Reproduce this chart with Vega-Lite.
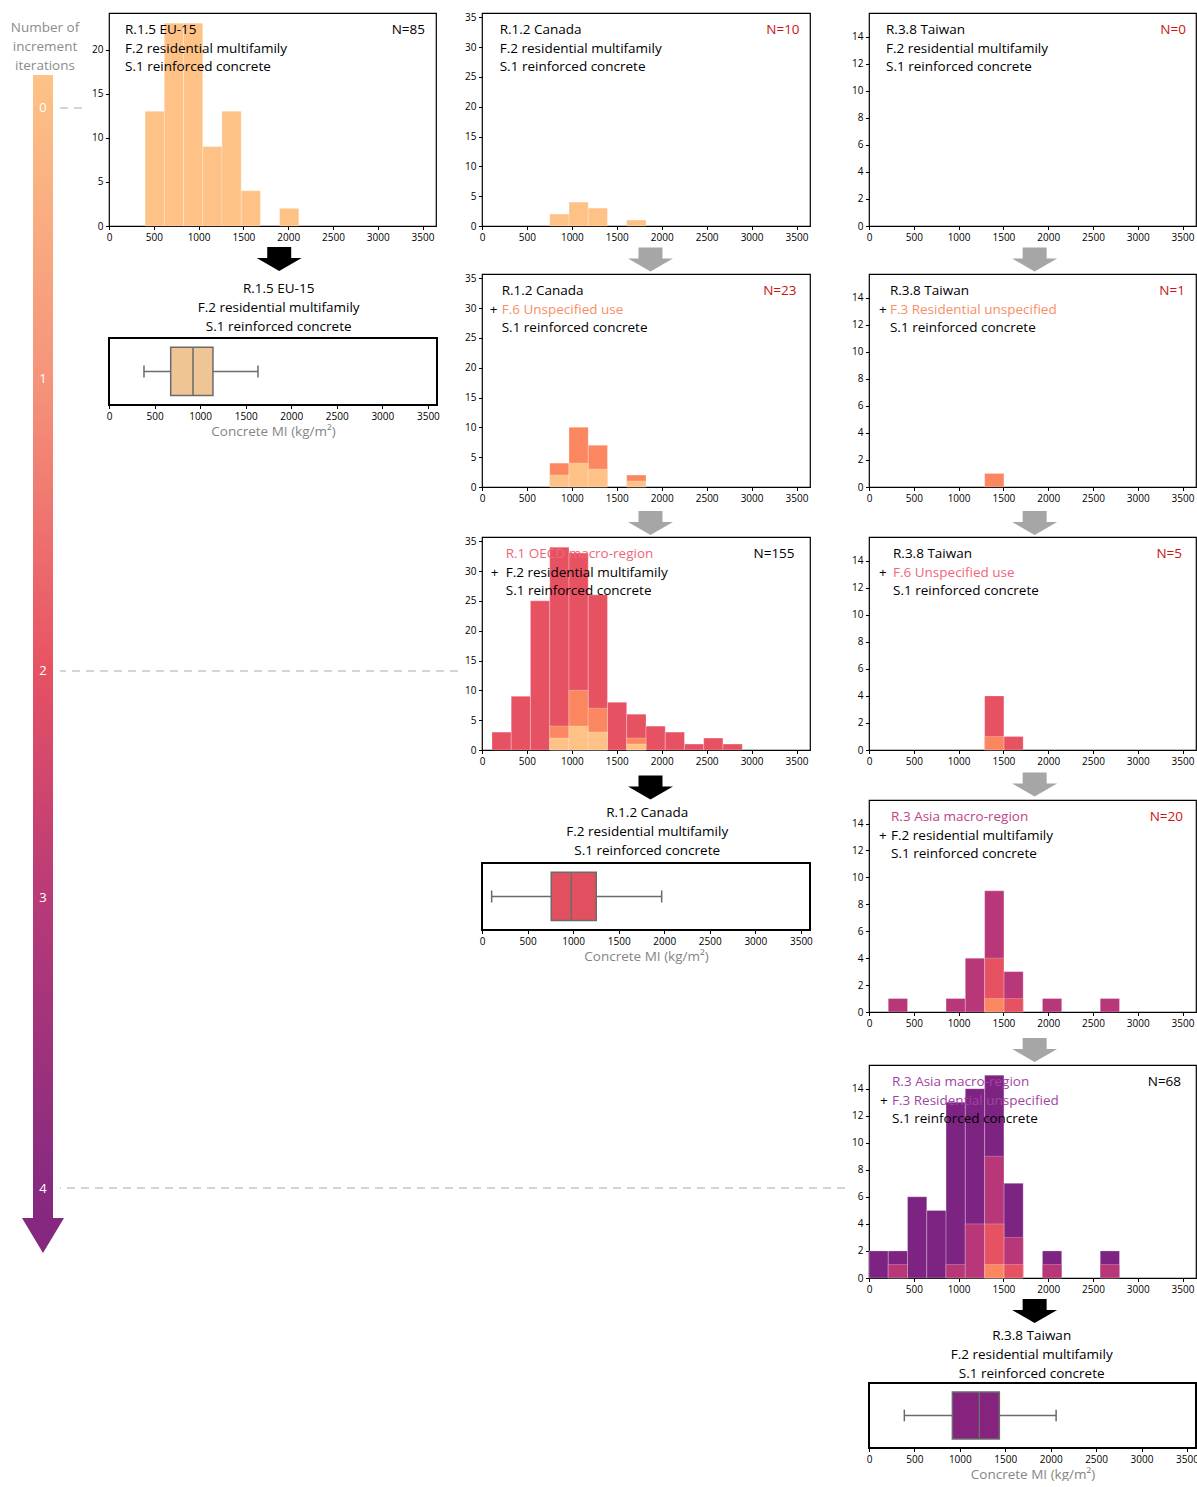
{
"$schema": "https://vega.github.io/schema/vega-lite/v6.json",
"padding": {"left": 0, "top": 11, "right": 0, "bottom": 0},
"background": "white",
"config": {
  "font": "Open Sans",
  "view": {"stroke": "#000000", "strokeWidth": 1.2},
  "axis": {"labelFont": "Open Sans", "labelFontSize": 10, "labelColor": "#000000", "tickColor": "#000000", "tickSize": 3.5, "tickWidth": 1, "domain": false, "grid": false, "labelPadding": 2.5, "labelFlush": false, "labelOverlap": false, "titleFont": "Open Sans", "format": "d"}
},
"datasets": {
  "b_c1": [
    {"lvl":0,"start":403,"end":617.5,"count":13},{"lvl":0,"start":617.5,"end":832,"count":23},{"lvl":0,"start":832,"end":1046.5,"count":23},{"lvl":0,"start":1046.5,"end":1261,"count":9},{"lvl":0,"start":1261,"end":1475.5,"count":13},{"lvl":0,"start":1475.5,"end":1690,"count":4},{"lvl":0,"start":1904.5,"end":2119,"count":2}],
  "b_c2p1": [
    {"lvl":0,"start":754,"end":968,"count":2},{"lvl":0,"start":968,"end":1182,"count":4},{"lvl":0,"start":1182,"end":1396,"count":3},{"lvl":0,"start":1610,"end":1825,"count":1}],
  "b_c2p2": [
    {"lvl":1,"start":754,"end":968,"count":4},{"lvl":1,"start":968,"end":1182,"count":10},{"lvl":1,"start":1182,"end":1396,"count":7},{"lvl":1,"start":1610,"end":1825,"count":2},
    {"lvl":0,"start":754,"end":968,"count":2},{"lvl":0,"start":968,"end":1182,"count":4},{"lvl":0,"start":1182,"end":1396,"count":3},{"lvl":0,"start":1610,"end":1825,"count":1}],
  "b_c2p3": [
    {"lvl":2,"start":111,"end":325,"count":3},{"lvl":2,"start":325,"end":539,"count":9},{"lvl":2,"start":539,"end":754,"count":25},{"lvl":2,"start":754,"end":968,"count":34},{"lvl":2,"start":968,"end":1182,"count":33},{"lvl":2,"start":1182,"end":1396,"count":26},{"lvl":2,"start":1396,"end":1610,"count":8},{"lvl":2,"start":1610,"end":1825,"count":6},{"lvl":2,"start":1825,"end":2039,"count":4},{"lvl":2,"start":2039,"end":2253,"count":3},{"lvl":2,"start":2253,"end":2467,"count":1},{"lvl":2,"start":2467,"end":2681,"count":2},{"lvl":2,"start":2681,"end":2896,"count":1},
    {"lvl":1,"start":754,"end":968,"count":4},{"lvl":1,"start":968,"end":1182,"count":10},{"lvl":1,"start":1182,"end":1396,"count":7},{"lvl":1,"start":1610,"end":1825,"count":2},
    {"lvl":0,"start":754,"end":968,"count":2},{"lvl":0,"start":968,"end":1182,"count":4},{"lvl":0,"start":1182,"end":1396,"count":3},{"lvl":0,"start":1610,"end":1825,"count":1}],
  "b_c3p1": [],
  "b_c3p2": [
    {"lvl":1,"start":1291,"end":1506,"count":1}],
  "b_c3p3": [
    {"lvl":2,"start":1291,"end":1506,"count":4},{"lvl":2,"start":1506,"end":1721,"count":1},
    {"lvl":1,"start":1291,"end":1506,"count":1}],
  "b_c3p4": [
    {"lvl":3,"start":215,"end":430,"count":1},{"lvl":3,"start":860,"end":1075,"count":1},{"lvl":3,"start":1075,"end":1291,"count":4},{"lvl":3,"start":1291,"end":1506,"count":9},{"lvl":3,"start":1506,"end":1721,"count":3},{"lvl":3,"start":1936,"end":2151,"count":1},{"lvl":3,"start":2581,"end":2796,"count":1},
    {"lvl":2,"start":1291,"end":1506,"count":4},{"lvl":2,"start":1506,"end":1721,"count":1},
    {"lvl":1,"start":1291,"end":1506,"count":1}],
  "b_c3p5": [
    {"lvl":4,"start":0,"end":215,"count":2},{"lvl":4,"start":215,"end":430,"count":2},{"lvl":4,"start":430,"end":645,"count":6},{"lvl":4,"start":645,"end":860,"count":5},{"lvl":4,"start":860,"end":1075,"count":13},{"lvl":4,"start":1075,"end":1291,"count":14},{"lvl":4,"start":1291,"end":1506,"count":15},{"lvl":4,"start":1506,"end":1721,"count":7},{"lvl":4,"start":1936,"end":2151,"count":2},{"lvl":4,"start":2581,"end":2796,"count":2},
    {"lvl":3,"start":215,"end":430,"count":1},{"lvl":3,"start":860,"end":1075,"count":1},{"lvl":3,"start":1075,"end":1291,"count":4},{"lvl":3,"start":1291,"end":1506,"count":9},{"lvl":3,"start":1506,"end":1721,"count":3},{"lvl":3,"start":1936,"end":2151,"count":1},{"lvl":3,"start":2581,"end":2796,"count":1},
    {"lvl":2,"start":1291,"end":1506,"count":4},{"lvl":2,"start":1506,"end":1721,"count":1},
    {"lvl":1,"start":1291,"end":1506,"count":1}],
  "t_c1": [
    {"kind":"d","line":1,"label":"R.1.5 EU-15","tone":"k"},{"kind":"d","line":2,"label":"F.2 residential multifamily","tone":"k"},{"kind":"d","line":3,"label":"S.1 reinforced concrete","tone":"k"},{"kind":"n","line":1,"label":"N=85","tone":"k"}],
  "t_c2p1": [
    {"kind":"d","line":1,"label":"R.1.2 Canada","tone":"k"},{"kind":"d","line":2,"label":"F.2 residential multifamily","tone":"k"},{"kind":"d","line":3,"label":"S.1 reinforced concrete","tone":"k"},{"kind":"n","line":1,"label":"N=10","tone":"nred"}],
  "t_c2p2": [
    {"kind":"d","line":1,"label":"R.1.2 Canada","tone":"k"},{"kind":"p","line":2,"label":"+","tone":"k"},{"kind":"d","line":2,"label":"F.6 Unspecified use","tone":"L1"},{"kind":"d","line":3,"label":"S.1 reinforced concrete","tone":"k"},{"kind":"n","line":1,"label":"N=23","tone":"nred"}],
  "t_c2p3": [
    {"kind":"d","line":1,"label":"R.1 OECD macro-region","tone":"L2"},{"kind":"p","line":2,"label":"+","tone":"k"},{"kind":"d","line":2,"label":"F.2 residential multifamily","tone":"k"},{"kind":"d","line":3,"label":"S.1 reinforced concrete","tone":"k"},{"kind":"n","line":1,"label":"N=155","tone":"k"}],
  "t_c3p1": [
    {"kind":"d","line":1,"label":"R.3.8 Taiwan","tone":"k"},{"kind":"d","line":2,"label":"F.2 residential multifamily","tone":"k"},{"kind":"d","line":3,"label":"S.1 reinforced concrete","tone":"k"},{"kind":"n","line":1,"label":"N=0","tone":"nred"}],
  "t_c3p2": [
    {"kind":"d","line":1,"label":"R.3.8 Taiwan","tone":"k"},{"kind":"p","line":2,"label":"+","tone":"k"},{"kind":"d","line":2,"label":"F.3 Residential unspecified","tone":"L1"},{"kind":"d","line":3,"label":"S.1 reinforced concrete","tone":"k"},{"kind":"n","line":1,"label":"N=1","tone":"nred"}],
  "t_c3p3": [
    {"kind":"d","line":1,"label":"R.3.8 Taiwan","tone":"k"},{"kind":"p","line":2,"label":"+","tone":"k"},{"kind":"d","line":2,"label":"F.6 Unspecified use","tone":"L2"},{"kind":"d","line":3,"label":"S.1 reinforced concrete","tone":"k"},{"kind":"n","line":1,"label":"N=5","tone":"nred"}],
  "t_c3p4": [
    {"kind":"d","line":1,"label":"R.3 Asia macro-region","tone":"L3"},{"kind":"p","line":2,"label":"+","tone":"k"},{"kind":"d","line":2,"label":"F.2 residential multifamily","tone":"k"},{"kind":"d","line":3,"label":"S.1 reinforced concrete","tone":"k"},{"kind":"n","line":1,"label":"N=20","tone":"nred"}],
  "t_c3p5": [
    {"kind":"d","line":1,"label":"R.3 Asia macro-region","tone":"L4"},{"kind":"p","line":2,"label":"+","tone":"k"},{"kind":"d","line":2,"label":"F.3 Residential unspecified","tone":"L4"},{"kind":"d","line":3,"label":"S.1 reinforced concrete","tone":"k"},{"kind":"n","line":1,"label":"N=68","tone":"k"}],
  "x_c1": [{"wlo":384,"q1":677,"med":922,"q3":1141,"whi":1635}],
  "x_c2": [{"wlo":106,"q1":760,"med":980,"q3":1254,"whi":1972}],
  "x_c3": [{"wlo":389,"q1":918,"med":1215,"q3":1435,"whi":2060}],
  "bt_c1": [{"line":1,"label":"R.1.5 EU-15"},{"line":2,"label":"F.2 residential multifamily"},{"line":3,"label":"S.1 reinforced concrete"}],
  "bt_c2": [{"line":1,"label":"R.1.2 Canada"},{"line":2,"label":"F.2 residential multifamily"},{"line":3,"label":"S.1 reinforced concrete"}],
  "bt_c3": [{"line":1,"label":"R.3.8 Taiwan"},{"line":2,"label":"F.2 residential multifamily"},{"line":3,"label":"S.1 reinforced concrete"}],
  "iters": [{"iter":"0","depth":95},{"iter":"1","depth":366},{"iter":"2","depth":658},{"iter":"3","depth":885},{"iter":"4","depth":1176}],
  "dash": [{"depth":95,"reach":82},{"depth":658,"reach":458},{"depth":1175,"reach":845}],
  "ltitle": [{"txt":"Number of","depth":14.5},{"txt":"increment","depth":33.5},{"txt":"iterations","depth":52.5}],
  "one": [{"k":1}]
},
"columns": 4,
"align": "each",
"bounds": "flush",
"spacing": {"row": 0, "column": 0},
"concat": [
  {"width": 109, "height": 213, "view": {"stroke": null},
   "layer": [
    {"data": {"name": "one"}, "mark": {"type": "rect", "opacity": 0},
     "encoding": {"x": {"datum": 0, "type": "quantitative", "scale": {"domain": [0, 109], "nice": false, "zero": false}, "axis": null}, "x2": {"datum": 109}, "y": {"datum": 0, "type": "quantitative", "scale": {"domain": [0, 213], "reverse": true, "nice": false, "zero": false}, "axis": null}, "y2": {"datum": 213}}},
    {"data": {"name": "dash"}, "mark": {"type": "rule", "color": "#c8c8c8", "strokeWidth": 1.5, "strokeDash": [8, 6]},
     "encoding": {"x": {"field": "reach", "type": "quantitative"}, "x2": {"datum": 60}, "y": {"field": "depth", "type": "quantitative"}}},
    {"data": {"name": "one"}, "mark": {"type": "rect", "fill": {"gradient": "linear", "x1": 0, "y1": 0, "x2": 0, "y2": 1, "stops": [{"offset": 0, "color": "#fdc387"}, {"offset": 0.03, "color": "#fcbd85"}, {"offset": 0.27, "color": "#f5937a"}, {"offset": 0.52, "color": "#e75263"}, {"offset": 0.72, "color": "#b83a78"}, {"offset": 0.975, "color": "#872a80"}, {"offset": 1, "color": "#86287f"}]}},
     "encoding": {"x": {"datum": 33, "type": "quantitative"}, "x2": {"datum": 53}, "y": {"datum": 62, "type": "quantitative"}, "y2": {"datum": 1205}}},
    {"data": {"name": "one"}, "mark": {"type": "point", "shape": "M-1,-0.833L1,-0.833L0,0.833Z", "size": 1764, "filled": true, "fill": "#86287f", "opacity": 1, "strokeWidth": 0},
     "encoding": {"x": {"datum": 43, "type": "quantitative"}, "y": {"datum": 1222.5, "type": "quantitative"}}},
    {"data": {"name": "iters"}, "mark": {"type": "text", "color": "#ffffff", "fontSize": 13, "align": "center", "baseline": "middle", "font": "Open Sans"},
     "encoding": {"x": {"datum": 43, "type": "quantitative"}, "y": {"field": "depth", "type": "quantitative"}, "text": {"field": "iter", "type": "nominal"}}},
    {"data": {"name": "ltitle"}, "mark": {"type": "text", "color": "#8c8c8c", "fontSize": 13.5, "align": "center", "baseline": "middle", "font": "Open Sans"},
     "encoding": {"x": {"datum": 45, "type": "quantitative"}, "y": {"field": "depth", "type": "quantitative"}, "text": {"field": "txt", "type": "nominal"}}}
   ]},
  {"width": 327, "height": 213, "resolve": {"scale": {"y": "independent"}},
   "layer": [
    {"data": {"name": "b_c1"}, "mark": {"type": "rect", "stroke": "#ffffff", "strokeWidth": 0.5, "strokeOpacity": 0.5},
     "encoding": {"x": {"field": "start", "type": "quantitative", "scale": {"domain": [0, 3650], "nice": false, "zero": false}, "axis": {"values": [0,500,1000,1500,2000,2500,3000,3500], "title": null}}, "x2": {"field": "end"}, "y": {"field": "count", "type": "quantitative", "scale": {"domain": [0, 24.15], "nice": false, "zero": false}, "axis": {"values": [0,5,10,15,20], "title": null}}, "y2": {"datum": 0}, "color": {"field": "lvl", "type": "ordinal", "scale": {"domain": [0,1,2,3,4], "range": ["#fec287","#fb8761","#e75263","#b73779","#7d2482"]}, "legend": null}}},
    {"data": {"name": "t_c1"}, "transform": [{"filter": "datum.kind == 'd'"}], "mark": {"type": "text", "align": "left", "baseline": "middle", "fontSize": 13.5, "font": "Open Sans"},
     "encoding": {"x": {"datum": 179, "type": "quantitative"}, "y": {"field": "line", "type": "quantitative", "scale": {"domain": [0.091, 11.48], "reverse": true, "nice": false, "zero": false}, "axis": null}, "text": {"field": "label", "type": "nominal"}, "fill": {"field": "tone", "type": "nominal", "scale": {"domain": ["k","L1","L2","L3","L4","nred"], "range": ["#000000","#fa8d66","#f06579","#c0428a","#a243a4","#cc1414"]}, "legend": null}}},
    {"data": {"name": "t_c1"}, "transform": [{"filter": "datum.kind == 'n'"}], "mark": {"type": "text", "align": "right", "baseline": "middle", "fontSize": 13.5, "font": "Open Sans"},
     "encoding": {"x": {"datum": 3527, "type": "quantitative"}, "y": {"field": "line", "type": "quantitative", "scale": {"domain": [0.091, 11.48], "reverse": true, "nice": false, "zero": false}, "axis": null}, "text": {"field": "label", "type": "nominal"}, "fill": {"field": "tone", "type": "nominal", "scale": {"domain": ["k","L1","L2","L3","L4","nred"], "range": ["#000000","#fa8d66","#f06579","#c0428a","#a243a4","#cc1414"]}, "legend": null}}}
   ]},
  {"width": 328, "height": 213, "resolve": {"scale": {"y": "independent"}},
   "layer": [
    {"data": {"name": "b_c2p1"}, "mark": {"type": "rect", "stroke": "#ffffff", "strokeWidth": 0.5, "strokeOpacity": 0.5},
     "encoding": {"x": {"field": "start", "type": "quantitative", "scale": {"domain": [0, 3650], "nice": false, "zero": false}, "axis": {"values": [0,500,1000,1500,2000,2500,3000,3500], "title": null}}, "x2": {"field": "end"}, "y": {"field": "count", "type": "quantitative", "scale": {"domain": [0, 35.7], "nice": false, "zero": false}, "axis": {"values": [0,5,10,15,20,25,30,35], "title": null}}, "y2": {"datum": 0}, "color": {"field": "lvl", "type": "ordinal", "scale": {"domain": [0,1,2,3,4], "range": ["#fec287","#fb8761","#e75263","#b73779","#7d2482"]}, "legend": null}}},
    {"data": {"name": "t_c2p1"}, "transform": [{"filter": "datum.kind == 'd'"}], "mark": {"type": "text", "align": "left", "baseline": "middle", "fontSize": 13.5, "font": "Open Sans"},
     "encoding": {"x": {"datum": 197, "type": "quantitative"}, "y": {"field": "line", "type": "quantitative", "scale": {"domain": [0.091, 11.48], "reverse": true, "nice": false, "zero": false}, "axis": null}, "text": {"field": "label", "type": "nominal"}, "fill": {"field": "tone", "type": "nominal", "scale": {"domain": ["k","L1","L2","L3","L4","nred"], "range": ["#000000","#fa8d66","#f06579","#c0428a","#a243a4","#cc1414"]}, "legend": null}}},
    {"data": {"name": "t_c2p1"}, "transform": [{"filter": "datum.kind == 'n'"}], "mark": {"type": "text", "align": "right", "baseline": "middle", "fontSize": 13.5, "font": "Open Sans"},
     "encoding": {"x": {"datum": 3534, "type": "quantitative"}, "y": {"field": "line", "type": "quantitative", "scale": {"domain": [0.091, 11.48], "reverse": true, "nice": false, "zero": false}, "axis": null}, "text": {"field": "label", "type": "nominal"}, "fill": {"field": "tone", "type": "nominal", "scale": {"domain": ["k","L1","L2","L3","L4","nred"], "range": ["#000000","#fa8d66","#f06579","#c0428a","#a243a4","#cc1414"]}, "legend": null}}}
   ]},
  {"width": 327, "height": 213, "resolve": {"scale": {"y": "independent"}},
   "layer": [
    {"data": {"name": "b_c3p1"}, "mark": {"type": "rect", "stroke": "#ffffff", "strokeWidth": 0.5, "strokeOpacity": 0.5},
     "encoding": {"x": {"field": "start", "type": "quantitative", "scale": {"domain": [0, 3650], "nice": false, "zero": false}, "axis": {"values": [0,500,1000,1500,2000,2500,3000,3500], "title": null}}, "x2": {"field": "end"}, "y": {"field": "count", "type": "quantitative", "scale": {"domain": [0, 15.75], "nice": false, "zero": false}, "axis": {"values": [0,2,4,6,8,10,12,14], "title": null}}, "y2": {"datum": 0}, "color": {"field": "lvl", "type": "ordinal", "scale": {"domain": [0,1,2,3,4], "range": ["#fec287","#fb8761","#e75263","#b73779","#7d2482"]}, "legend": null}}},
    {"data": {"name": "t_c3p1"}, "transform": [{"filter": "datum.kind == 'd'"}], "mark": {"type": "text", "align": "left", "baseline": "middle", "fontSize": 13.5, "font": "Open Sans"},
     "encoding": {"x": {"datum": 190, "type": "quantitative"}, "y": {"field": "line", "type": "quantitative", "scale": {"domain": [0.091, 11.48], "reverse": true, "nice": false, "zero": false}, "axis": null}, "text": {"field": "label", "type": "nominal"}, "fill": {"field": "tone", "type": "nominal", "scale": {"domain": ["k","L1","L2","L3","L4","nred"], "range": ["#000000","#fa8d66","#f06579","#c0428a","#a243a4","#cc1414"]}, "legend": null}}},
    {"data": {"name": "t_c3p1"}, "transform": [{"filter": "datum.kind == 'n'"}], "mark": {"type": "text", "align": "right", "baseline": "middle", "fontSize": 13.5, "font": "Open Sans"},
     "encoding": {"x": {"datum": 3538, "type": "quantitative"}, "y": {"field": "line", "type": "quantitative", "scale": {"domain": [0.091, 11.48], "reverse": true, "nice": false, "zero": false}, "axis": null}, "text": {"field": "label", "type": "nominal"}, "fill": {"field": "tone", "type": "nominal", "scale": {"domain": ["k","L1","L2","L3","L4","nred"], "range": ["#000000","#fa8d66","#f06579","#c0428a","#a243a4","#cc1414"]}, "legend": null}}}
   ]},

  {"width": 1, "height": 1, "view": {"stroke": null}, "data": {"name": "one"}, "mark": {"type": "point", "opacity": 0, "size": 0}, "encoding": {"x": {"datum": 0, "type": "quantitative", "axis": null}, "y": {"datum": 0, "type": "quantitative", "axis": null}}},
  {"width": 327, "height": 48, "view": {"stroke": null}, "data": {"name": "one"}, "mark": {"type": "point", "shape": "M-0.533,-0.533L0.533,-0.533L0.533,-0.044L1,-0.044L0,0.533L-1,-0.044L-0.533,-0.044Z", "size": 2025, "filled": true, "fill": "#000000", "opacity": 1, "strokeWidth": 0},
   "encoding": {"x": {"datum": 1900, "type": "quantitative", "scale": {"domain": [0, 3650], "nice": false, "zero": false}, "axis": null}, "y": {"datum": 0.6875, "type": "quantitative", "scale": {"domain": [0, 1], "reverse": true, "nice": false, "zero": false}, "axis": null}}},
  {"width": 328, "height": 48, "view": {"stroke": null}, "data": {"name": "one"}, "mark": {"type": "point", "shape": "M-0.533,-0.533L0.533,-0.533L0.533,-0.044L1,-0.044L0,0.533L-1,-0.044L-0.533,-0.044Z", "size": 2025, "filled": true, "fill": "#a6a6a6", "opacity": 1, "strokeWidth": 0},
   "encoding": {"x": {"datum": 1875, "type": "quantitative", "scale": {"domain": [0, 3650], "nice": false, "zero": false}, "axis": null}, "y": {"datum": 0.698, "type": "quantitative", "scale": {"domain": [0, 1], "reverse": true, "nice": false, "zero": false}, "axis": null}}},
  {"width": 327, "height": 48, "view": {"stroke": null}, "data": {"name": "one"}, "mark": {"type": "point", "shape": "M-0.533,-0.533L0.533,-0.533L0.533,-0.044L1,-0.044L0,0.533L-1,-0.044L-0.533,-0.044Z", "size": 2025, "filled": true, "fill": "#a6a6a6", "opacity": 1, "strokeWidth": 0},
   "encoding": {"x": {"datum": 1849, "type": "quantitative", "scale": {"domain": [0, 3650], "nice": false, "zero": false}, "axis": null}, "y": {"datum": 0.698, "type": "quantitative", "scale": {"domain": [0, 1], "reverse": true, "nice": false, "zero": false}, "axis": null}}},

  {"width": 1, "height": 1, "view": {"stroke": null}, "data": {"name": "one"}, "mark": {"type": "point", "opacity": 0, "size": 0}, "encoding": {"x": {"datum": 0, "type": "quantitative", "axis": null}, "y": {"datum": 0, "type": "quantitative", "axis": null}}},
  {"width": 328, "height": 131, "view": {"stroke": null}, "resolve": {"scale": {"y": "independent"}},
   "layer": [
    {"data": {"name": "x_c1"}, "mark": {"type": "rule", "color": "#6b6b6b", "strokeWidth": 1.5}, "encoding": {"x": {"field": "wlo", "type": "quantitative", "scale": {"domain": [0, 3600], "nice": false, "zero": false}, "axis": {"values": [0,500,1000,1500,2000,2500,3000,3500], "title": "Concrete MI (kg/m²)", "titleColor": "#858585", "titleFontSize": 13.5, "titleFontWeight": "normal", "titlePadding": 3}}, "x2": {"field": "whi"}, "y": {"datum": 0.5, "type": "quantitative", "scale": {"domain": [0, 1.955], "nice": false, "zero": false}, "axis": null}}},
    {"data": {"name": "x_c1"}, "mark": {"type": "rule", "color": "#6b6b6b", "strokeWidth": 1.5}, "encoding": {"x": {"field": "wlo", "type": "quantitative"}, "y": {"datum": 0.41, "type": "quantitative", "scale": {"domain": [0, 1.955], "nice": false, "zero": false}, "axis": null}, "y2": {"datum": 0.59}}},
    {"data": {"name": "x_c1"}, "mark": {"type": "rule", "color": "#6b6b6b", "strokeWidth": 1.5}, "encoding": {"x": {"field": "whi", "type": "quantitative"}, "y": {"datum": 0.41, "type": "quantitative", "scale": {"domain": [0, 1.955], "nice": false, "zero": false}, "axis": null}, "y2": {"datum": 0.59}}},
    {"data": {"name": "x_c1"}, "mark": {"type": "rect", "fill": "#efc595", "stroke": "#6b6b6b", "strokeWidth": 1.5}, "encoding": {"x": {"field": "q1", "type": "quantitative"}, "x2": {"field": "q3"}, "y": {"datum": 0.14, "type": "quantitative", "scale": {"domain": [0, 1.955], "nice": false, "zero": false}, "axis": null}, "y2": {"datum": 0.86}}},
    {"data": {"name": "x_c1"}, "mark": {"type": "rule", "color": "#6b6b6b", "strokeWidth": 1.5}, "encoding": {"x": {"field": "med", "type": "quantitative"}, "y": {"datum": 0.14, "type": "quantitative", "scale": {"domain": [0, 1.955], "nice": false, "zero": false}, "axis": null}, "y2": {"datum": 0.86}}},
    {"data": {"name": "one"}, "mark": {"type": "rect", "fill": "#ffffff", "fillOpacity": 0, "stroke": "#000000", "strokeWidth": 2}, "encoding": {"x": {"datum": 0, "type": "quantitative"}, "x2": {"datum": 3600}, "y": {"datum": 0, "type": "quantitative", "scale": {"domain": [0, 1.955], "nice": false, "zero": false}, "axis": null}, "y2": {"datum": 1}}},
    {"data": {"name": "bt_c1"}, "mark": {"type": "text", "align": "center", "baseline": "middle", "fontSize": 13.5, "font": "Open Sans", "color": "#000000"}, "encoding": {"x": {"datum": 1862, "type": "quantitative"}, "y": {"field": "line", "type": "quantitative", "scale": {"domain": [0.2105, 7.105], "reverse": true, "nice": false, "zero": false}, "axis": null}, "text": {"field": "label", "type": "nominal"}}}
   ]},
  {"width": 328, "height": 213, "resolve": {"scale": {"y": "independent"}},
   "layer": [
    {"data": {"name": "b_c2p2"}, "mark": {"type": "rect", "stroke": "#ffffff", "strokeWidth": 0.5, "strokeOpacity": 0.5},
     "encoding": {"x": {"field": "start", "type": "quantitative", "scale": {"domain": [0, 3650], "nice": false, "zero": false}, "axis": {"values": [0,500,1000,1500,2000,2500,3000,3500], "title": null}}, "x2": {"field": "end"}, "y": {"field": "count", "type": "quantitative", "scale": {"domain": [0, 35.7], "nice": false, "zero": false}, "axis": {"values": [0,5,10,15,20,25,30,35], "title": null}}, "y2": {"datum": 0}, "color": {"field": "lvl", "type": "ordinal", "scale": {"domain": [0,1,2,3,4], "range": ["#fec287","#fb8761","#e75263","#b73779","#7d2482"]}, "legend": null}}},
    {"data": {"name": "t_c2p2"}, "transform": [{"filter": "datum.kind == 'd'"}], "mark": {"type": "text", "align": "left", "baseline": "middle", "fontSize": 13.5, "font": "Open Sans"},
     "encoding": {"x": {"datum": 219, "type": "quantitative"}, "y": {"field": "line", "type": "quantitative", "scale": {"domain": [0.091, 11.48], "reverse": true, "nice": false, "zero": false}, "axis": null}, "text": {"field": "label", "type": "nominal"}, "fill": {"field": "tone", "type": "nominal", "scale": {"domain": ["k","L1","L2","L3","L4","nred"], "range": ["#000000","#fa8d66","#f06579","#c0428a","#a243a4","#cc1414"]}, "legend": null}}},
    {"data": {"name": "t_c2p2"}, "transform": [{"filter": "datum.kind == 'p'"}], "mark": {"type": "text", "align": "center", "baseline": "middle", "fontSize": 13.5, "font": "Open Sans"},
     "encoding": {"x": {"datum": 130, "type": "quantitative"}, "y": {"field": "line", "type": "quantitative", "scale": {"domain": [0.091, 11.48], "reverse": true, "nice": false, "zero": false}, "axis": null}, "text": {"field": "label", "type": "nominal"}, "fill": {"field": "tone", "type": "nominal", "scale": {"domain": ["k","L1","L2","L3","L4","nred"], "range": ["#000000","#fa8d66","#f06579","#c0428a","#a243a4","#cc1414"]}, "legend": null}}},
    {"data": {"name": "t_c2p2"}, "transform": [{"filter": "datum.kind == 'n'"}], "mark": {"type": "text", "align": "right", "baseline": "middle", "fontSize": 13.5, "font": "Open Sans"},
     "encoding": {"x": {"datum": 3500, "type": "quantitative"}, "y": {"field": "line", "type": "quantitative", "scale": {"domain": [0.091, 11.48], "reverse": true, "nice": false, "zero": false}, "axis": null}, "text": {"field": "label", "type": "nominal"}, "fill": {"field": "tone", "type": "nominal", "scale": {"domain": ["k","L1","L2","L3","L4","nred"], "range": ["#000000","#fa8d66","#f06579","#c0428a","#a243a4","#cc1414"]}, "legend": null}}}
   ]},
  {"width": 327, "height": 213, "resolve": {"scale": {"y": "independent"}},
   "layer": [
    {"data": {"name": "b_c3p2"}, "mark": {"type": "rect", "stroke": "#ffffff", "strokeWidth": 0.5, "strokeOpacity": 0.5},
     "encoding": {"x": {"field": "start", "type": "quantitative", "scale": {"domain": [0, 3650], "nice": false, "zero": false}, "axis": {"values": [0,500,1000,1500,2000,2500,3000,3500], "title": null}}, "x2": {"field": "end"}, "y": {"field": "count", "type": "quantitative", "scale": {"domain": [0, 15.75], "nice": false, "zero": false}, "axis": {"values": [0,2,4,6,8,10,12,14], "title": null}}, "y2": {"datum": 0}, "color": {"field": "lvl", "type": "ordinal", "scale": {"domain": [0,1,2,3,4], "range": ["#fec287","#fb8761","#e75263","#b73779","#7d2482"]}, "legend": null}}},
    {"data": {"name": "t_c3p2"}, "transform": [{"filter": "datum.kind == 'd'"}], "mark": {"type": "text", "align": "left", "baseline": "middle", "fontSize": 13.5, "font": "Open Sans"},
     "encoding": {"x": {"datum": 234, "type": "quantitative"}, "y": {"field": "line", "type": "quantitative", "scale": {"domain": [0.091, 11.48], "reverse": true, "nice": false, "zero": false}, "axis": null}, "text": {"field": "label", "type": "nominal"}, "fill": {"field": "tone", "type": "nominal", "scale": {"domain": ["k","L1","L2","L3","L4","nred"], "range": ["#000000","#fa8d66","#f06579","#c0428a","#a243a4","#cc1414"]}, "legend": null}}},
    {"data": {"name": "t_c3p2"}, "transform": [{"filter": "datum.kind == 'p'"}], "mark": {"type": "text", "align": "center", "baseline": "middle", "fontSize": 13.5, "font": "Open Sans"},
     "encoding": {"x": {"datum": 156, "type": "quantitative"}, "y": {"field": "line", "type": "quantitative", "scale": {"domain": [0.091, 11.48], "reverse": true, "nice": false, "zero": false}, "axis": null}, "text": {"field": "label", "type": "nominal"}, "fill": {"field": "tone", "type": "nominal", "scale": {"domain": ["k","L1","L2","L3","L4","nred"], "range": ["#000000","#fa8d66","#f06579","#c0428a","#a243a4","#cc1414"]}, "legend": null}}},
    {"data": {"name": "t_c3p2"}, "transform": [{"filter": "datum.kind == 'n'"}], "mark": {"type": "text", "align": "right", "baseline": "middle", "fontSize": 13.5, "font": "Open Sans"},
     "encoding": {"x": {"datum": 3527, "type": "quantitative"}, "y": {"field": "line", "type": "quantitative", "scale": {"domain": [0.091, 11.48], "reverse": true, "nice": false, "zero": false}, "axis": null}, "text": {"field": "label", "type": "nominal"}, "fill": {"field": "tone", "type": "nominal", "scale": {"domain": ["k","L1","L2","L3","L4","nred"], "range": ["#000000","#fa8d66","#f06579","#c0428a","#a243a4","#cc1414"]}, "legend": null}}}
   ]},

  {"width": 1, "height": 1, "view": {"stroke": null}, "data": {"name": "one"}, "mark": {"type": "point", "opacity": 0, "size": 0}, "encoding": {"x": {"datum": 0, "type": "quantitative", "axis": null}, "y": {"datum": 0, "type": "quantitative", "axis": null}}},
  {"width": 373, "height": 1, "view": {"stroke": null}, "data": {"name": "one"}, "mark": {"type": "point", "opacity": 0, "size": 0}, "encoding": {"x": {"datum": 0, "type": "quantitative", "axis": null}, "y": {"datum": 0, "type": "quantitative", "axis": null}}},
  {"width": 328, "height": 50, "view": {"stroke": null}, "data": {"name": "one"}, "mark": {"type": "point", "shape": "M-0.533,-0.533L0.533,-0.533L0.533,-0.044L1,-0.044L0,0.533L-1,-0.044L-0.533,-0.044Z", "size": 2025, "filled": true, "fill": "#a6a6a6", "opacity": 1, "strokeWidth": 0},
   "encoding": {"x": {"datum": 1875, "type": "quantitative", "scale": {"domain": [0, 3650], "nice": false, "zero": false}, "axis": null}, "y": {"datum": 0.72, "type": "quantitative", "scale": {"domain": [0, 1], "reverse": true, "nice": false, "zero": false}, "axis": null}}},
  {"width": 327, "height": 50, "view": {"stroke": null}, "data": {"name": "one"}, "mark": {"type": "point", "shape": "M-0.533,-0.533L0.533,-0.533L0.533,-0.044L1,-0.044L0,0.533L-1,-0.044L-0.533,-0.044Z", "size": 2025, "filled": true, "fill": "#a6a6a6", "opacity": 1, "strokeWidth": 0},
   "encoding": {"x": {"datum": 1849, "type": "quantitative", "scale": {"domain": [0, 3650], "nice": false, "zero": false}, "axis": null}, "y": {"datum": 0.72, "type": "quantitative", "scale": {"domain": [0, 1], "reverse": true, "nice": false, "zero": false}, "axis": null}}},

  {"width": 1, "height": 1, "view": {"stroke": null}, "data": {"name": "one"}, "mark": {"type": "point", "opacity": 0, "size": 0}, "encoding": {"x": {"datum": 0, "type": "quantitative", "axis": null}, "y": {"datum": 0, "type": "quantitative", "axis": null}}},
  {"width": 1, "height": 1, "view": {"stroke": null}, "data": {"name": "one"}, "mark": {"type": "point", "opacity": 0, "size": 0}, "encoding": {"x": {"datum": 0, "type": "quantitative", "axis": null}, "y": {"datum": 0, "type": "quantitative", "axis": null}}},
  {"width": 328, "height": 213, "resolve": {"scale": {"y": "independent"}},
   "layer": [
    {"data": {"name": "b_c2p3"}, "mark": {"type": "rect", "stroke": "#ffffff", "strokeWidth": 0.5, "strokeOpacity": 0.5},
     "encoding": {"x": {"field": "start", "type": "quantitative", "scale": {"domain": [0, 3650], "nice": false, "zero": false}, "axis": {"values": [0,500,1000,1500,2000,2500,3000,3500], "title": null}}, "x2": {"field": "end"}, "y": {"field": "count", "type": "quantitative", "scale": {"domain": [0, 35.7], "nice": false, "zero": false}, "axis": {"values": [0,5,10,15,20,25,30,35], "title": null}}, "y2": {"datum": 0}, "color": {"field": "lvl", "type": "ordinal", "scale": {"domain": [0,1,2,3,4], "range": ["#fec287","#fb8761","#e75263","#b73779","#7d2482"]}, "legend": null}}},
    {"data": {"name": "t_c2p3"}, "transform": [{"filter": "datum.kind == 'd'"}], "mark": {"type": "text", "align": "left", "baseline": "middle", "fontSize": 13.5, "font": "Open Sans"},
     "encoding": {"x": {"datum": 264, "type": "quantitative"}, "y": {"field": "line", "type": "quantitative", "scale": {"domain": [0.091, 11.48], "reverse": true, "nice": false, "zero": false}, "axis": null}, "text": {"field": "label", "type": "nominal"}, "fill": {"field": "tone", "type": "nominal", "scale": {"domain": ["k","L1","L2","L3","L4","nred"], "range": ["#000000","#fa8d66","#f06579","#c0428a","#a243a4","#cc1414"]}, "legend": null}}},
    {"data": {"name": "t_c2p3"}, "transform": [{"filter": "datum.kind == 'p'"}], "mark": {"type": "text", "align": "center", "baseline": "middle", "fontSize": 13.5, "font": "Open Sans"},
     "encoding": {"x": {"datum": 141, "type": "quantitative"}, "y": {"field": "line", "type": "quantitative", "scale": {"domain": [0.091, 11.48], "reverse": true, "nice": false, "zero": false}, "axis": null}, "text": {"field": "label", "type": "nominal"}, "fill": {"field": "tone", "type": "nominal", "scale": {"domain": ["k","L1","L2","L3","L4","nred"], "range": ["#000000","#fa8d66","#f06579","#c0428a","#a243a4","#cc1414"]}, "legend": null}}},
    {"data": {"name": "t_c2p3"}, "transform": [{"filter": "datum.kind == 'n'"}], "mark": {"type": "text", "align": "right", "baseline": "middle", "fontSize": 13.5, "font": "Open Sans"},
     "encoding": {"x": {"datum": 3478, "type": "quantitative"}, "y": {"field": "line", "type": "quantitative", "scale": {"domain": [0.091, 11.48], "reverse": true, "nice": false, "zero": false}, "axis": null}, "text": {"field": "label", "type": "nominal"}, "fill": {"field": "tone", "type": "nominal", "scale": {"domain": ["k","L1","L2","L3","L4","nred"], "range": ["#000000","#fa8d66","#f06579","#c0428a","#a243a4","#cc1414"]}, "legend": null}}}
   ]},
  {"width": 327, "height": 213, "resolve": {"scale": {"y": "independent"}},
   "layer": [
    {"data": {"name": "b_c3p3"}, "mark": {"type": "rect", "stroke": "#ffffff", "strokeWidth": 0.5, "strokeOpacity": 0.5},
     "encoding": {"x": {"field": "start", "type": "quantitative", "scale": {"domain": [0, 3650], "nice": false, "zero": false}, "axis": {"values": [0,500,1000,1500,2000,2500,3000,3500], "title": null}}, "x2": {"field": "end"}, "y": {"field": "count", "type": "quantitative", "scale": {"domain": [0, 15.75], "nice": false, "zero": false}, "axis": {"values": [0,2,4,6,8,10,12,14], "title": null}}, "y2": {"datum": 0}, "color": {"field": "lvl", "type": "ordinal", "scale": {"domain": [0,1,2,3,4], "range": ["#fec287","#fb8761","#e75263","#b73779","#7d2482"]}, "legend": null}}},
    {"data": {"name": "t_c3p3"}, "transform": [{"filter": "datum.kind == 'd'"}], "mark": {"type": "text", "align": "left", "baseline": "middle", "fontSize": 13.5, "font": "Open Sans"},
     "encoding": {"x": {"datum": 268, "type": "quantitative"}, "y": {"field": "line", "type": "quantitative", "scale": {"domain": [0.091, 11.48], "reverse": true, "nice": false, "zero": false}, "axis": null}, "text": {"field": "label", "type": "nominal"}, "fill": {"field": "tone", "type": "nominal", "scale": {"domain": ["k","L1","L2","L3","L4","nred"], "range": ["#000000","#fa8d66","#f06579","#c0428a","#a243a4","#cc1414"]}, "legend": null}}},
    {"data": {"name": "t_c3p3"}, "transform": [{"filter": "datum.kind == 'p'"}], "mark": {"type": "text", "align": "center", "baseline": "middle", "fontSize": 13.5, "font": "Open Sans"},
     "encoding": {"x": {"datum": 156, "type": "quantitative"}, "y": {"field": "line", "type": "quantitative", "scale": {"domain": [0.091, 11.48], "reverse": true, "nice": false, "zero": false}, "axis": null}, "text": {"field": "label", "type": "nominal"}, "fill": {"field": "tone", "type": "nominal", "scale": {"domain": ["k","L1","L2","L3","L4","nred"], "range": ["#000000","#fa8d66","#f06579","#c0428a","#a243a4","#cc1414"]}, "legend": null}}},
    {"data": {"name": "t_c3p3"}, "transform": [{"filter": "datum.kind == 'n'"}], "mark": {"type": "text", "align": "right", "baseline": "middle", "fontSize": 13.5, "font": "Open Sans"},
     "encoding": {"x": {"datum": 3494, "type": "quantitative"}, "y": {"field": "line", "type": "quantitative", "scale": {"domain": [0.091, 11.48], "reverse": true, "nice": false, "zero": false}, "axis": null}, "text": {"field": "label", "type": "nominal"}, "fill": {"field": "tone", "type": "nominal", "scale": {"domain": ["k","L1","L2","L3","L4","nred"], "range": ["#000000","#fa8d66","#f06579","#c0428a","#a243a4","#cc1414"]}, "legend": null}}}
   ]},

  {"width": 1, "height": 1, "view": {"stroke": null}, "data": {"name": "one"}, "mark": {"type": "point", "opacity": 0, "size": 0}, "encoding": {"x": {"datum": 0, "type": "quantitative", "axis": null}, "y": {"datum": 0, "type": "quantitative", "axis": null}}},
  {"width": 1, "height": 1, "view": {"stroke": null}, "data": {"name": "one"}, "mark": {"type": "point", "opacity": 0, "size": 0}, "encoding": {"x": {"datum": 0, "type": "quantitative", "axis": null}, "y": {"datum": 0, "type": "quantitative", "axis": null}}},
  {"width": 328, "height": 50, "view": {"stroke": null}, "data": {"name": "one"}, "mark": {"type": "point", "shape": "M-0.533,-0.533L0.533,-0.533L0.533,-0.044L1,-0.044L0,0.533L-1,-0.044L-0.533,-0.044Z", "size": 2025, "filled": true, "fill": "#000000", "opacity": 1, "strokeWidth": 0},
   "encoding": {"x": {"datum": 1875, "type": "quantitative", "scale": {"domain": [0, 3650], "nice": false, "zero": false}, "axis": null}, "y": {"datum": 0.75, "type": "quantitative", "scale": {"domain": [0, 1], "reverse": true, "nice": false, "zero": false}, "axis": null}}},
  {"width": 327, "height": 50, "view": {"stroke": null}, "data": {"name": "one"}, "mark": {"type": "point", "shape": "M-0.533,-0.533L0.533,-0.533L0.533,-0.044L1,-0.044L0,0.533L-1,-0.044L-0.533,-0.044Z", "size": 2025, "filled": true, "fill": "#a6a6a6", "opacity": 1, "strokeWidth": 0},
   "encoding": {"x": {"datum": 1849, "type": "quantitative", "scale": {"domain": [0, 3650], "nice": false, "zero": false}, "axis": null}, "y": {"datum": 0.69, "type": "quantitative", "scale": {"domain": [0, 1], "reverse": true, "nice": false, "zero": false}, "axis": null}}},

  {"width": 1, "height": 1, "view": {"stroke": null}, "data": {"name": "one"}, "mark": {"type": "point", "opacity": 0, "size": 0}, "encoding": {"x": {"datum": 0, "type": "quantitative", "axis": null}, "y": {"datum": 0, "type": "quantitative", "axis": null}}},
  {"width": 1, "height": 1, "view": {"stroke": null}, "data": {"name": "one"}, "mark": {"type": "point", "opacity": 0, "size": 0}, "encoding": {"x": {"datum": 0, "type": "quantitative", "axis": null}, "y": {"datum": 0, "type": "quantitative", "axis": null}}},
  {"width": 328, "height": 130, "view": {"stroke": null}, "resolve": {"scale": {"y": "independent"}},
   "layer": [
    {"data": {"name": "x_c2"}, "mark": {"type": "rule", "color": "#6b6b6b", "strokeWidth": 1.5}, "encoding": {"x": {"field": "wlo", "type": "quantitative", "scale": {"domain": [0, 3600], "nice": false, "zero": false}, "axis": {"values": [0,500,1000,1500,2000,2500,3000,3500], "title": "Concrete MI (kg/m²)", "titleColor": "#858585", "titleFontSize": 13.5, "titleFontWeight": "normal", "titlePadding": 3}}, "x2": {"field": "whi"}, "y": {"datum": 0.5, "type": "quantitative", "scale": {"domain": [0, 1.94], "nice": false, "zero": false}, "axis": null}}},
    {"data": {"name": "x_c2"}, "mark": {"type": "rule", "color": "#6b6b6b", "strokeWidth": 1.5}, "encoding": {"x": {"field": "wlo", "type": "quantitative"}, "y": {"datum": 0.41, "type": "quantitative", "scale": {"domain": [0, 1.94], "nice": false, "zero": false}, "axis": null}, "y2": {"datum": 0.59}}},
    {"data": {"name": "x_c2"}, "mark": {"type": "rule", "color": "#6b6b6b", "strokeWidth": 1.5}, "encoding": {"x": {"field": "whi", "type": "quantitative"}, "y": {"datum": 0.41, "type": "quantitative", "scale": {"domain": [0, 1.94], "nice": false, "zero": false}, "axis": null}, "y2": {"datum": 0.59}}},
    {"data": {"name": "x_c2"}, "mark": {"type": "rect", "fill": "#e2505f", "stroke": "#6b6b6b", "strokeWidth": 1.5}, "encoding": {"x": {"field": "q1", "type": "quantitative"}, "x2": {"field": "q3"}, "y": {"datum": 0.14, "type": "quantitative", "scale": {"domain": [0, 1.94], "nice": false, "zero": false}, "axis": null}, "y2": {"datum": 0.86}}},
    {"data": {"name": "x_c2"}, "mark": {"type": "rule", "color": "#6b6b6b", "strokeWidth": 1.5}, "encoding": {"x": {"field": "med", "type": "quantitative"}, "y": {"datum": 0.14, "type": "quantitative", "scale": {"domain": [0, 1.94], "nice": false, "zero": false}, "axis": null}, "y2": {"datum": 0.86}}},
    {"data": {"name": "one"}, "mark": {"type": "rect", "fill": "#ffffff", "fillOpacity": 0, "stroke": "#000000", "strokeWidth": 2}, "encoding": {"x": {"datum": 0, "type": "quantitative"}, "x2": {"datum": 3600}, "y": {"datum": 0, "type": "quantitative", "scale": {"domain": [0, 1.94], "nice": false, "zero": false}, "axis": null}, "y2": {"datum": 1}}},
    {"data": {"name": "bt_c2"}, "mark": {"type": "text", "align": "center", "baseline": "middle", "fontSize": 13.5, "font": "Open Sans", "color": "#000000"}, "encoding": {"x": {"datum": 1813, "type": "quantitative"}, "y": {"field": "line", "type": "quantitative", "scale": {"domain": [0.30, 7.142], "reverse": true, "nice": false, "zero": false}, "axis": null}, "text": {"field": "label", "type": "nominal"}}}
   ]},
  {"width": 327, "height": 212, "resolve": {"scale": {"y": "independent"}},
   "layer": [
    {"data": {"name": "b_c3p4"}, "mark": {"type": "rect", "stroke": "#ffffff", "strokeWidth": 0.5, "strokeOpacity": 0.5},
     "encoding": {"x": {"field": "start", "type": "quantitative", "scale": {"domain": [0, 3650], "nice": false, "zero": false}, "axis": {"values": [0,500,1000,1500,2000,2500,3000,3500], "title": null}}, "x2": {"field": "end"}, "y": {"field": "count", "type": "quantitative", "scale": {"domain": [0, 15.75], "nice": false, "zero": false}, "axis": {"values": [0,2,4,6,8,10,12,14], "title": null}}, "y2": {"datum": 0}, "color": {"field": "lvl", "type": "ordinal", "scale": {"domain": [0,1,2,3,4], "range": ["#fec287","#fb8761","#e75263","#b73779","#7d2482"]}, "legend": null}}},
    {"data": {"name": "t_c3p4"}, "transform": [{"filter": "datum.kind == 'd'"}], "mark": {"type": "text", "align": "left", "baseline": "middle", "fontSize": 13.5, "font": "Open Sans"},
     "encoding": {"x": {"datum": 246, "type": "quantitative"}, "y": {"field": "line", "type": "quantitative", "scale": {"domain": [0.091, 11.48], "reverse": true, "nice": false, "zero": false}, "axis": null}, "text": {"field": "label", "type": "nominal"}, "fill": {"field": "tone", "type": "nominal", "scale": {"domain": ["k","L1","L2","L3","L4","nred"], "range": ["#000000","#fa8d66","#f06579","#c0428a","#a243a4","#cc1414"]}, "legend": null}}},
    {"data": {"name": "t_c3p4"}, "transform": [{"filter": "datum.kind == 'p'"}], "mark": {"type": "text", "align": "center", "baseline": "middle", "fontSize": 13.5, "font": "Open Sans"},
     "encoding": {"x": {"datum": 156, "type": "quantitative"}, "y": {"field": "line", "type": "quantitative", "scale": {"domain": [0.091, 11.48], "reverse": true, "nice": false, "zero": false}, "axis": null}, "text": {"field": "label", "type": "nominal"}, "fill": {"field": "tone", "type": "nominal", "scale": {"domain": ["k","L1","L2","L3","L4","nred"], "range": ["#000000","#fa8d66","#f06579","#c0428a","#a243a4","#cc1414"]}, "legend": null}}},
    {"data": {"name": "t_c3p4"}, "transform": [{"filter": "datum.kind == 'n'"}], "mark": {"type": "text", "align": "right", "baseline": "middle", "fontSize": 13.5, "font": "Open Sans"},
     "encoding": {"x": {"datum": 3505, "type": "quantitative"}, "y": {"field": "line", "type": "quantitative", "scale": {"domain": [0.091, 11.48], "reverse": true, "nice": false, "zero": false}, "axis": null}, "text": {"field": "label", "type": "nominal"}, "fill": {"field": "tone", "type": "nominal", "scale": {"domain": ["k","L1","L2","L3","L4","nred"], "range": ["#000000","#fa8d66","#f06579","#c0428a","#a243a4","#cc1414"]}, "legend": null}}}
   ]},

  {"width": 1, "height": 1, "view": {"stroke": null}, "data": {"name": "one"}, "mark": {"type": "point", "opacity": 0, "size": 0}, "encoding": {"x": {"datum": 0, "type": "quantitative", "axis": null}, "y": {"datum": 0, "type": "quantitative", "axis": null}}},
  {"width": 1, "height": 1, "view": {"stroke": null}, "data": {"name": "one"}, "mark": {"type": "point", "opacity": 0, "size": 0}, "encoding": {"x": {"datum": 0, "type": "quantitative", "axis": null}, "y": {"datum": 0, "type": "quantitative", "axis": null}}},
  {"width": 387, "height": 1, "view": {"stroke": null}, "data": {"name": "one"}, "mark": {"type": "point", "opacity": 0, "size": 0}, "encoding": {"x": {"datum": 0, "type": "quantitative", "axis": null}, "y": {"datum": 0, "type": "quantitative", "axis": null}}},
  {"width": 327, "height": 53, "view": {"stroke": null}, "data": {"name": "one"}, "mark": {"type": "point", "shape": "M-0.533,-0.533L0.533,-0.533L0.533,-0.044L1,-0.044L0,0.533L-1,-0.044L-0.533,-0.044Z", "size": 2025, "filled": true, "fill": "#a6a6a6", "opacity": 1, "strokeWidth": 0},
   "encoding": {"x": {"datum": 1849, "type": "quantitative", "scale": {"domain": [0, 3650], "nice": false, "zero": false}, "axis": null}, "y": {"datum": 0.717, "type": "quantitative", "scale": {"domain": [0, 1], "reverse": true, "nice": false, "zero": false}, "axis": null}}},

  {"width": 1, "height": 1, "view": {"stroke": null}, "data": {"name": "one"}, "mark": {"type": "point", "opacity": 0, "size": 0}, "encoding": {"x": {"datum": 0, "type": "quantitative", "axis": null}, "y": {"datum": 0, "type": "quantitative", "axis": null}}},
  {"width": 1, "height": 1, "view": {"stroke": null}, "data": {"name": "one"}, "mark": {"type": "point", "opacity": 0, "size": 0}, "encoding": {"x": {"datum": 0, "type": "quantitative", "axis": null}, "y": {"datum": 0, "type": "quantitative", "axis": null}}},
  {"width": 1, "height": 1, "view": {"stroke": null}, "data": {"name": "one"}, "mark": {"type": "point", "opacity": 0, "size": 0}, "encoding": {"x": {"datum": 0, "type": "quantitative", "axis": null}, "y": {"datum": 0, "type": "quantitative", "axis": null}}},
  {"width": 327, "height": 213, "resolve": {"scale": {"y": "independent"}},
   "layer": [
    {"data": {"name": "b_c3p5"}, "mark": {"type": "rect", "stroke": "#ffffff", "strokeWidth": 0.5, "strokeOpacity": 0.5},
     "encoding": {"x": {"field": "start", "type": "quantitative", "scale": {"domain": [0, 3650], "nice": false, "zero": false}, "axis": {"values": [0,500,1000,1500,2000,2500,3000,3500], "title": null}}, "x2": {"field": "end"}, "y": {"field": "count", "type": "quantitative", "scale": {"domain": [0, 15.75], "nice": false, "zero": false}, "axis": {"values": [0,2,4,6,8,10,12,14], "title": null}}, "y2": {"datum": 0}, "color": {"field": "lvl", "type": "ordinal", "scale": {"domain": [0,1,2,3,4], "range": ["#fec287","#fb8761","#e75263","#b73779","#7d2482"]}, "legend": null}}},
    {"data": {"name": "t_c3p5"}, "transform": [{"filter": "datum.kind == 'd'"}], "mark": {"type": "text", "align": "left", "baseline": "middle", "fontSize": 13.5, "font": "Open Sans"},
     "encoding": {"x": {"datum": 257, "type": "quantitative"}, "y": {"field": "line", "type": "quantitative", "scale": {"domain": [0.091, 11.48], "reverse": true, "nice": false, "zero": false}, "axis": null}, "text": {"field": "label", "type": "nominal"}, "fill": {"field": "tone", "type": "nominal", "scale": {"domain": ["k","L1","L2","L3","L4","nred"], "range": ["#000000","#fa8d66","#f06579","#c0428a","#a243a4","#cc1414"]}, "legend": null}}},
    {"data": {"name": "t_c3p5"}, "transform": [{"filter": "datum.kind == 'p'"}], "mark": {"type": "text", "align": "center", "baseline": "middle", "fontSize": 13.5, "font": "Open Sans"},
     "encoding": {"x": {"datum": 167, "type": "quantitative"}, "y": {"field": "line", "type": "quantitative", "scale": {"domain": [0.091, 11.48], "reverse": true, "nice": false, "zero": false}, "axis": null}, "text": {"field": "label", "type": "nominal"}, "fill": {"field": "tone", "type": "nominal", "scale": {"domain": ["k","L1","L2","L3","L4","nred"], "range": ["#000000","#fa8d66","#f06579","#c0428a","#a243a4","#cc1414"]}, "legend": null}}},
    {"data": {"name": "t_c3p5"}, "transform": [{"filter": "datum.kind == 'n'"}], "mark": {"type": "text", "align": "right", "baseline": "middle", "fontSize": 13.5, "font": "Open Sans"},
     "encoding": {"x": {"datum": 3483, "type": "quantitative"}, "y": {"field": "line", "type": "quantitative", "scale": {"domain": [0.091, 11.48], "reverse": true, "nice": false, "zero": false}, "axis": null}, "text": {"field": "label", "type": "nominal"}, "fill": {"field": "tone", "type": "nominal", "scale": {"domain": ["k","L1","L2","L3","L4","nred"], "range": ["#000000","#fa8d66","#f06579","#c0428a","#a243a4","#cc1414"]}, "legend": null}}}
   ]},

  {"width": 1, "height": 1, "view": {"stroke": null}, "data": {"name": "one"}, "mark": {"type": "point", "opacity": 0, "size": 0}, "encoding": {"x": {"datum": 0, "type": "quantitative", "axis": null}, "y": {"datum": 0, "type": "quantitative", "axis": null}}},
  {"width": 1, "height": 1, "view": {"stroke": null}, "data": {"name": "one"}, "mark": {"type": "point", "opacity": 0, "size": 0}, "encoding": {"x": {"datum": 0, "type": "quantitative", "axis": null}, "y": {"datum": 0, "type": "quantitative", "axis": null}}},
  {"width": 1, "height": 1, "view": {"stroke": null}, "data": {"name": "one"}, "mark": {"type": "point", "opacity": 0, "size": 0}, "encoding": {"x": {"datum": 0, "type": "quantitative", "axis": null}, "y": {"datum": 0, "type": "quantitative", "axis": null}}},
  {"width": 327, "height": 50, "view": {"stroke": null}, "data": {"name": "one"}, "mark": {"type": "point", "shape": "M-0.533,-0.533L0.533,-0.533L0.533,-0.044L1,-0.044L0,0.533L-1,-0.044L-0.533,-0.044Z", "size": 2025, "filled": true, "fill": "#000000", "opacity": 1, "strokeWidth": 0},
   "encoding": {"x": {"datum": 1849, "type": "quantitative", "scale": {"domain": [0, 3650], "nice": false, "zero": false}, "axis": null}, "y": {"datum": 0.66, "type": "quantitative", "scale": {"domain": [0, 1], "reverse": true, "nice": false, "zero": false}, "axis": null}}},

  {"width": 1, "height": 1, "view": {"stroke": null}, "data": {"name": "one"}, "mark": {"type": "point", "opacity": 0, "size": 0}, "encoding": {"x": {"datum": 0, "type": "quantitative", "axis": null}, "y": {"datum": 0, "type": "quantitative", "axis": null}}},
  {"width": 1, "height": 1, "view": {"stroke": null}, "data": {"name": "one"}, "mark": {"type": "point", "opacity": 0, "size": 0}, "encoding": {"x": {"datum": 0, "type": "quantitative", "axis": null}, "y": {"datum": 0, "type": "quantitative", "axis": null}}},
  {"width": 1, "height": 1, "view": {"stroke": null}, "data": {"name": "one"}, "mark": {"type": "point", "opacity": 0, "size": 0}, "encoding": {"x": {"datum": 0, "type": "quantitative", "axis": null}, "y": {"datum": 0, "type": "quantitative", "axis": null}}},
  {"width": 327, "height": 120, "view": {"stroke": null}, "resolve": {"scale": {"y": "independent"}},
   "layer": [
    {"data": {"name": "x_c3"}, "mark": {"type": "rule", "color": "#6b6b6b", "strokeWidth": 1.5}, "encoding": {"x": {"field": "wlo", "type": "quantitative", "scale": {"domain": [0, 3600], "nice": false, "zero": false}, "axis": {"values": [0,500,1000,1500,2000,2500,3000,3500], "title": "Concrete MI (kg/m²)", "titleColor": "#858585", "titleFontSize": 13.5, "titleFontWeight": "normal", "titlePadding": 3}}, "x2": {"field": "whi"}, "y": {"datum": 0.5, "type": "quantitative", "scale": {"domain": [0, 1.846], "nice": false, "zero": false}, "axis": null}}},
    {"data": {"name": "x_c3"}, "mark": {"type": "rule", "color": "#6b6b6b", "strokeWidth": 1.5}, "encoding": {"x": {"field": "wlo", "type": "quantitative"}, "y": {"datum": 0.41, "type": "quantitative", "scale": {"domain": [0, 1.846], "nice": false, "zero": false}, "axis": null}, "y2": {"datum": 0.59}}},
    {"data": {"name": "x_c3"}, "mark": {"type": "rule", "color": "#6b6b6b", "strokeWidth": 1.5}, "encoding": {"x": {"field": "whi", "type": "quantitative"}, "y": {"datum": 0.41, "type": "quantitative", "scale": {"domain": [0, 1.846], "nice": false, "zero": false}, "axis": null}, "y2": {"datum": 0.59}}},
    {"data": {"name": "x_c3"}, "mark": {"type": "rect", "fill": "#85237f", "stroke": "#6b6b6b", "strokeWidth": 1.5}, "encoding": {"x": {"field": "q1", "type": "quantitative"}, "x2": {"field": "q3"}, "y": {"datum": 0.14, "type": "quantitative", "scale": {"domain": [0, 1.846], "nice": false, "zero": false}, "axis": null}, "y2": {"datum": 0.86}}},
    {"data": {"name": "x_c3"}, "mark": {"type": "rule", "color": "#6b6b6b", "strokeWidth": 1.5}, "encoding": {"x": {"field": "med", "type": "quantitative"}, "y": {"datum": 0.14, "type": "quantitative", "scale": {"domain": [0, 1.846], "nice": false, "zero": false}, "axis": null}, "y2": {"datum": 0.86}}},
    {"data": {"name": "one"}, "mark": {"type": "rect", "fill": "#ffffff", "fillOpacity": 0, "stroke": "#000000", "strokeWidth": 2}, "encoding": {"x": {"datum": 0, "type": "quantitative"}, "x2": {"datum": 3600}, "y": {"datum": 0, "type": "quantitative", "scale": {"domain": [0, 1.846], "nice": false, "zero": false}, "axis": null}, "y2": {"datum": 1}}},
    {"data": {"name": "bt_c3"}, "mark": {"type": "text", "align": "center", "baseline": "middle", "fontSize": 13.5, "font": "Open Sans", "color": "#000000"}, "encoding": {"x": {"datum": 1791, "type": "quantitative"}, "y": {"field": "line", "type": "quantitative", "scale": {"domain": [0.595, 6.911], "reverse": true, "nice": false, "zero": false}, "axis": null}, "text": {"field": "label", "type": "nominal"}}}
   ]}
]
}
